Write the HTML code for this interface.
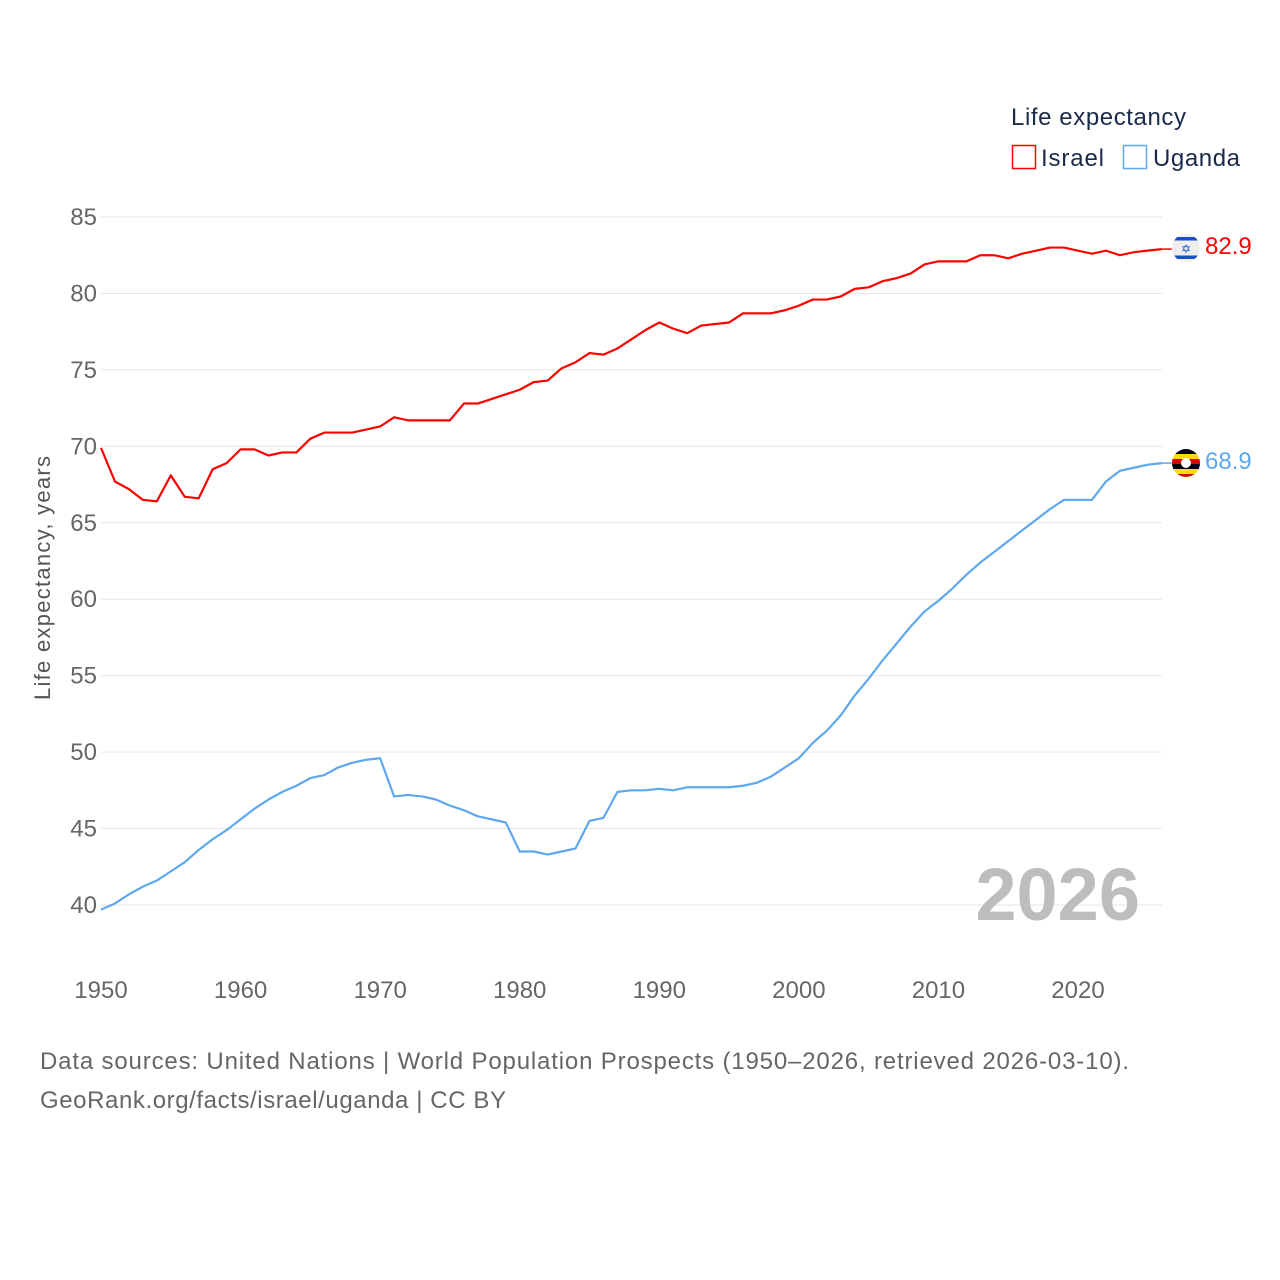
<!DOCTYPE html>
<html><head><meta charset="utf-8"><style>
body{margin:0;background:#fff;font-family:"Liberation Sans",sans-serif;}
svg{display:block}
</style></head><body>
<svg id="chart" width="1280" height="1280" xmlns="http://www.w3.org/2000/svg">
<g id="grid"></g>
<g id="yticks"></g>
<g id="xticks"></g>
<text transform="translate(50,578) rotate(-90)" text-anchor="middle" font-size="22" fill="#555" textLength="244">Life expectancy, years</text>
<text x="1140" y="920" text-anchor="end" font-size="74" font-weight="bold" fill="#bdbdbd">2026</text>
<g id="series"></g>
<g>
<text x="1011" y="125" font-size="24" fill="#1a2b4a" textLength="175">Life expectancy</text>
<rect x="1012.5" y="145.5" width="23" height="23" fill="none" stroke="#ff0000" stroke-width="1.5"/>
<text x="1041" y="166" font-size="24" fill="#1a2b4a" textLength="63">Israel</text>
<rect x="1123.5" y="145.5" width="23" height="23" fill="none" stroke="#5ea8ef" stroke-width="1.5"/>
<text x="1153" y="166" font-size="24" fill="#1a2b4a" textLength="87">Uganda</text>
</g>
<g>
<clipPath id="ic"><circle cx="1186" cy="248" r="14"/></clipPath>
<g clip-path="url(#ic)">
<rect x="1172" y="234" width="28" height="28" fill="#eeeeee"/>
<rect x="1172" y="237" width="28" height="3.5" fill="#1452c4"/>
<rect x="1172" y="255.5" width="28" height="3.5" fill="#1452c4"/>
</g>
<text x="1186" y="253" text-anchor="middle" font-size="12" fill="#1452c4">✡</text>
</g>
<g>
<clipPath id="uc"><circle cx="1186" cy="463" r="14"/></clipPath>
<g clip-path="url(#uc)">
<rect x="1172" y="449" width="28" height="5" fill="#000"/>
<rect x="1172" y="454" width="28" height="5" fill="#fcdc04"/>
<rect x="1172" y="459" width="28" height="5" fill="#d90000"/>
<rect x="1172" y="464" width="28" height="5" fill="#000"/>
<rect x="1172" y="469" width="28" height="5" fill="#fcdc04"/>
<rect x="1172" y="474" width="28" height="5" fill="#d90000"/>
</g>
<circle cx="1186" cy="463" r="5" fill="#fff"/>
</g>
<text x="1205" y="254" font-size="24" fill="#ff0000">82.9</text>
<text x="1205" y="469" font-size="24" fill="#5ea8ef">68.9</text>
<text x="40" y="1069" font-size="24" fill="#666" textLength="1089">Data sources: United Nations | World Population Prospects (1950–2026, retrieved 2026-03-10).</text>
<text x="40" y="1108" font-size="24" fill="#666" textLength="466">GeoRank.org/facts/israel/uganda | CC BY</text>
</svg>
<script>
const yTicks=[40,45,50,55,60,65,70,75,80,85];
const xTicks=[1950,1960,1970,1980,1990,2000,2010,2020];
const israel=[69.9,67.7,67.2,66.5,66.4,68.1,66.7,66.6,68.5,68.9,69.8,69.8,69.4,69.6,69.6,70.5,70.9,70.9,70.9,71.1,71.3,71.9,71.7,71.7,71.7,71.7,72.8,72.8,73.1,73.4,73.7,74.2,74.3,75.1,75.5,76.1,76.0,76.4,77.0,77.6,78.1,77.7,77.4,77.9,78.0,78.1,78.7,78.7,78.7,78.9,79.2,79.6,79.6,79.8,80.3,80.4,80.8,81.0,81.3,81.9,82.1,82.1,82.1,82.5,82.5,82.3,82.6,82.8,83.0,83.0,82.8,82.6,82.8,82.5,82.7,82.8,82.9];
const uganda=[39.7,40.1,40.7,41.2,41.6,42.2,42.8,43.6,44.3,44.9,45.6,46.3,46.9,47.4,47.8,48.3,48.5,49.0,49.3,49.5,49.6,47.1,47.2,47.1,46.9,46.5,46.2,45.8,45.6,45.4,43.5,43.5,43.3,43.5,43.7,45.5,45.7,47.4,47.5,47.5,47.6,47.5,47.7,47.7,47.7,47.7,47.8,48.0,48.4,49.0,49.6,50.6,51.4,52.4,53.7,54.8,56.0,57.1,58.2,59.2,59.9,60.7,61.6,62.4,63.1,63.8,64.5,65.2,65.9,66.5,66.5,66.5,67.7,68.4,68.6,68.8,68.9];
const startYear=1950;
const NS='http://www.w3.org/2000/svg';
function xs(yr){return 101+(yr-1950)*(977/70);}
function ys(v){return 217+(85-v)*(688/45);}
const grid=document.getElementById('grid'),yt=document.getElementById('yticks'),xt=document.getElementById('xticks'),ser=document.getElementById('series');
yTicks.forEach(v=>{
 const l=document.createElementNS(NS,'line');
 
 
 l.setAttribute('x1',101);l.setAttribute('x2',1162);l.setAttribute('y1',ys(v));l.setAttribute('y2',ys(v));
 l.setAttribute('stroke','#e6e6e6');l.setAttribute('stroke-width','1');grid.appendChild(l);
 const t=document.createElementNS(NS,'text');
 
 
 t.setAttribute('x',97);t.setAttribute('y',ys(v)+8);t.setAttribute('text-anchor','end');
 t.setAttribute('font-size','24');t.setAttribute('fill','#666');t.textContent=v;yt.appendChild(t);
});
xTicks.forEach(v=>{
 const t=document.createElementNS(NS,'text');
 
 
 t.setAttribute('x',xs(v));t.setAttribute('y',998);t.setAttribute('text-anchor','middle');
 t.setAttribute('font-size','24');t.setAttribute('fill','#666');t.textContent=v;xt.appendChild(t);
});
function line(data,color,name){
 const p=document.createElementNS(NS,'path');
 
 
 p.setAttribute('d',data.map((v,i)=>(i?'L':'M')+xs(startYear+i).toFixed(2)+','+ys(v).toFixed(2)).join(''));
 p.setAttribute('fill','none');p.setAttribute('stroke',color);p.setAttribute('stroke-width','2.2');p.setAttribute('stroke-linejoin','round');
 ser.appendChild(p);
 const last=data[data.length-1],lx=xs(startYear+data.length-1);
 const c=document.createElementNS(NS,'line');
 
 
 c.setAttribute('x1',lx);c.setAttribute('x2',lx+10);c.setAttribute('y1',ys(last));c.setAttribute('y2',ys(last));
 c.setAttribute('stroke',color);c.setAttribute('stroke-width','1.5');ser.appendChild(c);
}
line(israel,'#ff0000','israel-line');
line(uganda,'#5ea8ef','uganda-line');
</script>
</body></html>
